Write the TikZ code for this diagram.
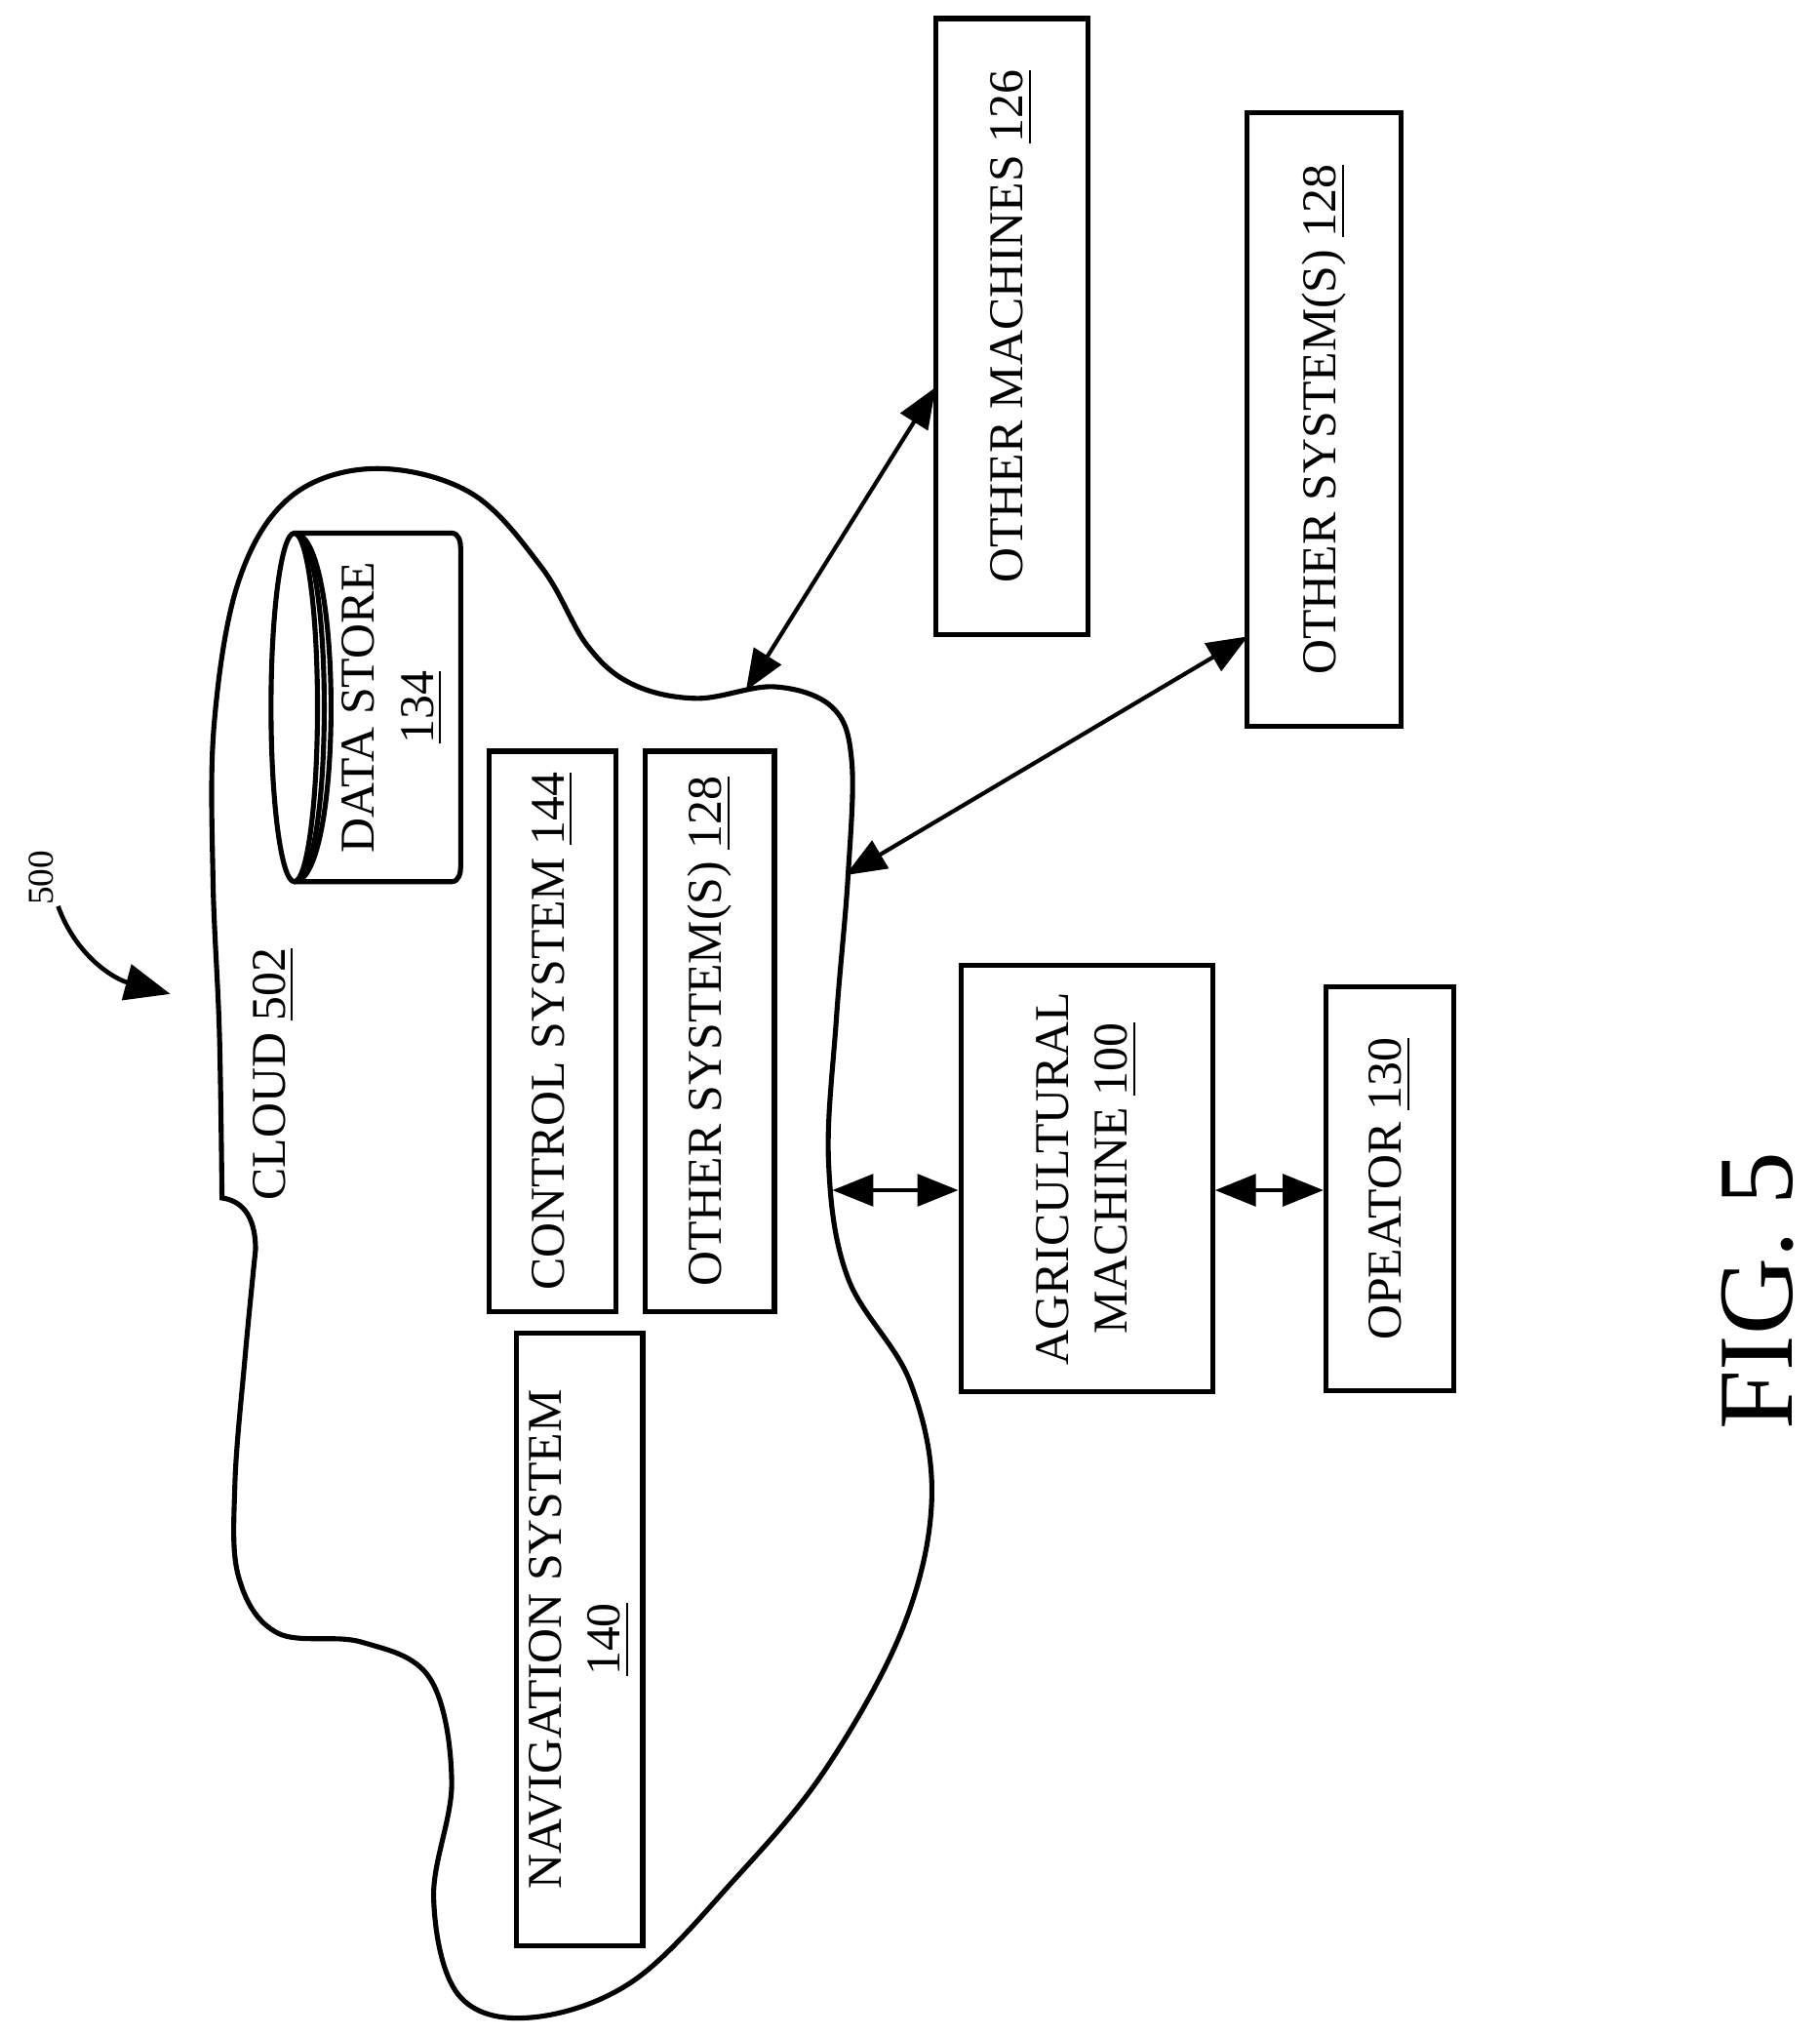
\documentclass[tikz,border=0pt]{standalone}
\usepackage{fontspec}
\setmainfont{Liberation Serif}
\usetikzlibrary{arrows.meta}
\begin{document}
\begin{tikzpicture}[x=0.01cm,y=-0.01cm,
  box/.style={draw,line width=1.1pt,rotate=90,inner sep=0pt},
  lbl/.style={rotate=90,font=\fontsize{10.7}{13}\selectfont,align=center},
  dbl/.style={line width=0.9pt,{Triangle[length=9pt,width=7pt]}-{Triangle[length=9pt,width=7pt]}},
  every node/.style={font=\fontsize{10.7}{13}\selectfont}]
\useasboundingbox (0,0) rectangle (1410,1578);
\node[box, minimum width=477*0.2845pt, minimum height=118*0.2845pt] (om) at (784,253) {};
\node[lbl] at (om) {OTHER MACHINES \underline{126}};
\node[box, minimum width=475*0.2845pt, minimum height=119*0.2845pt] (os) at (1026,325) {};
\node[lbl] at (os) {OTHER SYSTEM(S) \underline{128}};
\node[box, minimum width=434*0.2845pt, minimum height=98*0.2845pt] (cs) at (428,799) {};
\node[lbl] at (cs) {CONTROL SYSTEM \underline{144}};
\node[box, minimum width=434*0.2845pt, minimum height=100*0.2845pt] (ois) at (550,799) {};
\node[lbl] at (ois) {OTHER SYSTEM(S) \underline{128}};
\node[box, minimum width=475*0.2845pt, minimum height=98*0.2845pt] (ns) at (449,1270) {};
\node[lbl] at (ns) {NAVIGATION SYSTEM\\\underline{140}};
\node[box, minimum width=330*0.2845pt, minimum height=195*0.2845pt] (am) at (842,913) {};
\node[lbl] at (am) {AGRICULTURAL\\MACHINE \underline{100}};
\node[box, minimum width=313*0.2845pt, minimum height=99*0.2845pt] (op) at (1077,921) {};
\node[lbl] at (op) {OPEATOR \underline{130}};
% cylinder
\begin{scope}[line width=1.1pt]
\draw (228,413) -- (350,413) to[out=0,in=90] (357,425) -- (357,671) to[out=-90,in=0] (350,683) -- (228,683);
\draw (228,548) ellipse [x radius=18, y radius=135];
\draw (228,413) .. controls (259,413) and (259,683) .. (228,683);
\draw (228,413) .. controls (266,413) and (266,683) .. (228,683);
\end{scope}
\node[lbl] (ds) at (304,548) {DATA STORE\\\underline{134}};
% cloud
\draw[line width=1.1pt] plot[smooth,tension=0.6] coordinates {(198,968) (190,1050) (182,1150) (185,1222) (215,1265) (280,1272) (333,1300) (350,1380) (336,1470) (355,1545) (410,1563) (490,1535) (570,1455) (640,1370) (700,1260) (722,1160) (705,1070) (657,990) (642,900) (648,790) (657,680) (660,590) (645,548) (600,532) (540,541) (490,530) (455,500) (420,440) (365,382) (290,363) (225,385) (185,450) (166,560) (165,680) (170,800) (172,928)} .. controls (186,930) and (198,940) .. (198,968);
\node[lbl] (cl) at (212,832) {CLOUD \underline{502}};
\node[rotate=90,font=\fontsize{8}{10}\selectfont] (l500) at (32,680) {500};
\coordinate (a500) at (45,702);
\coordinate (t500) at (132,770);
\draw[line width=1pt,-{Triangle[length=10pt,width=8pt]}] (a500) to[out=-70,in=165] (t500);
% connectors
\coordinate (c1) at (578,535);
\coordinate (c2) at (655,678);
\coordinate (c3) at (645,922);
\coordinate (omw) at (725,300);
\coordinate (osw) at (967,493);
\draw[dbl] (c1) -- (omw);
\draw[dbl] (c2) -- (osw);
\draw[dbl] (c3) -- (c3 -| am.north);
\draw[dbl] (am.south |- 0,922) -- (op.north |- 0,922);
\node[rotate=90,font=\fontsize{23.5}{28}\selectfont] (fig) at (1362,1000) {FIG. 5};
\end{tikzpicture}
\end{document}
